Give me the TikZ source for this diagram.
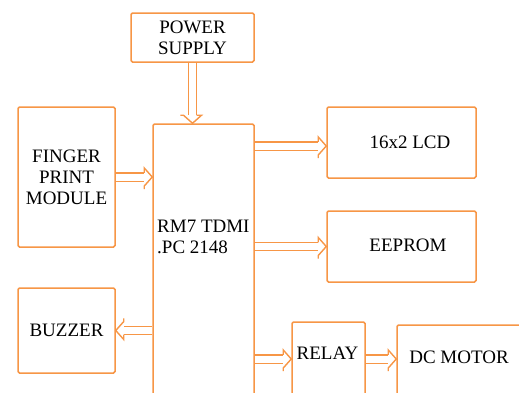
\documentclass[tikz,border=0pt]{standalone}
\usepackage{fontspec}
\setmainfont{Liberation Serif}
\usetikzlibrary{decorations.markings}
\definecolor{ora}{HTML}{F79646}
\tikzset{
  blk/.style={draw=ora, line width=1.5pt, rounded corners=1.5pt, inner sep=0pt, font=\fontsize{19}{21}\selectfont, align=center},
  txt/.style={inner sep=0pt, font=\fontsize{19}{21}\selectfont, align=center},
  dbl/.style={draw=ora, line width=1.4pt, double=white, double distance=7pt, shorten >=8pt,
    postaction={decorate, decoration={markings, mark=at position 1 with {
      \draw[ora, line width=1.4pt, line join=miter] (-8pt,4.2pt) -- (-8pt,9pt) -- (0pt,0pt) -- (-8pt,-9pt) -- (-8pt,-4.2pt);}}}}
}
\begin{document}
\begin{tikzpicture}[x=1pt,y=-1pt]
\useasboundingbox (0,0) rectangle (519,392);
\clip (0,0) rectangle (519,392);
\fill[white] (0,0) rectangle (519,392);
\node[blk, minimum width=123pt, minimum height=49pt] (ps) at (192.5,37.5) {POWER\\SUPPLY};
\node[blk, minimum width=97pt, minimum height=140pt] (fp) at (66.5,177) {FINGER\\PRINT\\MODULE};
\node[blk, minimum width=97pt, minimum height=85pt] (bz) at (66.5,330.5) {BUZZER};
\node[blk, minimum width=101pt, minimum height=276pt] (main) at (203.5,262) {};
\node[txt, align=left, anchor=north west] (maint) at (157,220) {RM7 TDMI\\.PC 2148};
\node[blk, minimum width=149pt, minimum height=71pt] (lcd) at (401.5,142.5) {};
\node[txt] (lcdt) at (410,142) {16x2 LCD};
\node[blk, minimum width=149pt, minimum height=71pt] (ee) at (401.5,246.5) {};
\node[txt] (eet) at (408,245) {EEPROM};
\node[blk, minimum width=73pt, minimum height=74pt] (rl) at (328.5,359) {};
\node[txt] (rlt) at (327.5,353.5) {RELAY};
\node[blk, minimum width=148pt, minimum height=75pt] (dc) at (471,362.5) {};
\node[txt] (dct) at (459,357) {DC MOTOR};
\coordinate (la) at ([yshift=-3.5pt]lcd.west);
\draw[dbl] (ps.south) -- (ps.south |- main.north);
\draw[dbl] (fp.east) -- (fp.east -| main.west);
\draw[dbl] (bz.east -| main.west) -- (bz.east);
\draw[dbl] (main.east |- la) -- (la);
\draw[dbl] (main.east |- ee.west) -- (ee.west);
\draw[dbl] (main.east |- rl.west) -- (rl.west);
\draw[dbl] (rl.east) -- (rl.east -| dc.west);
\end{tikzpicture}
\end{document}
